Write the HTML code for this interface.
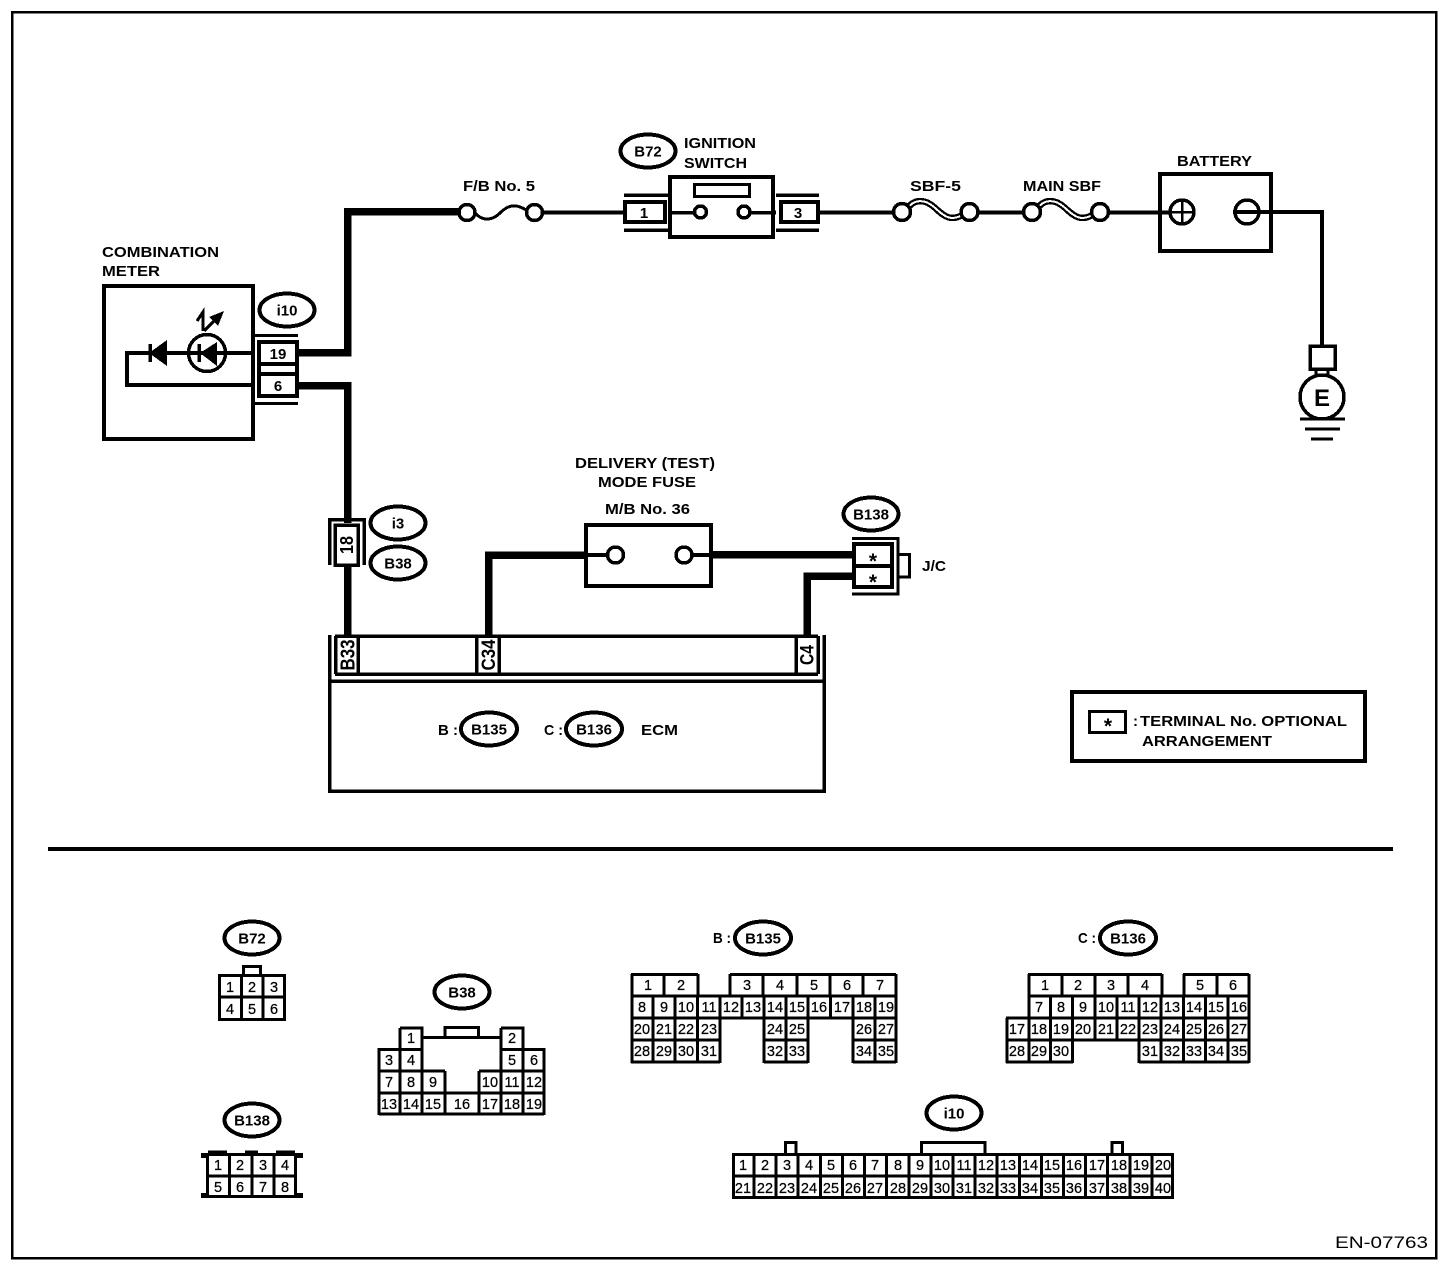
<!DOCTYPE html>
<html><head><meta charset="utf-8"><title>Wiring diagram EN-07763</title>
<style>
html,body{margin:0;padding:0;background:#fff}
svg{display:block}
text{font-family:"Liberation Sans",sans-serif;fill:#000}
.l{font-size:15px;font-weight:bold}
.d text,.d{font-size:14.5px;text-anchor:middle;stroke:#000;stroke-width:.25}
.c{font-size:15px;font-weight:bold;text-anchor:middle}
.g{fill:none;stroke:#000;stroke-width:3}
.w{fill:#fff;stroke:#000}
ellipse{fill:#fff;stroke:#000;stroke-width:4}
</style></head><body>
<svg width="1456" height="1268" viewBox="0 0 1456 1268" shape-rendering="crispEdges">
<rect width="1456" height="1268" fill="#fff"/>
<rect x="12" y="12" width="1424" height="1246" fill="none" stroke="#000" stroke-width="2.5"/>

<!-- wires thick -->
<g fill="none" stroke="#000" stroke-width="7.5">
<path d="M299 352.500H347.500V211.500H458"/>
<path d="M299 385.500H347.500V523M347.500 566V636"/>
<path d="M488.500 636V555H586"/>
<path d="M712 554.500H853"/>
<path d="M853 576H807V636"/>
</g>
<!-- wires thin -->
<g fill="none" stroke="#000" stroke-width="4">
<path d="M543 212.500H624M668 212.500H694M750 212.500H776M820 212.500H893M978 212.500H1023M1109 212.500H1170"/>
<path d="M1233 212H1322V345"/>
<path d="M586 555H608M692 555H712"/>
<path d="M255 353H127V385H255"/>
</g>

<!-- combination meter -->
<rect x="104" y="286" width="149" height="153" class="w" stroke-width="4"/>
<path d="M255 353H127V385H255" fill="none" stroke="#000" stroke-width="4"/>
<path d="M150 344V362" stroke="#000" stroke-width="3.500"/>
<path d="M149 353L167 340V366Z"/>
<circle cx="207" cy="353" r="18.500" class="w" stroke-width="3.500"/>
<path d="M188 353H226" stroke="#000" stroke-width="4"/>
<path d="M199 344V362" stroke="#000" stroke-width="3.500"/>
<path d="M200 353L217 342V366Z"/>
<path d="M197 321L203 312V331" fill="none" stroke="#000" stroke-width="3"/>
<path d="M204 331L218 317" fill="none" stroke="#000" stroke-width="3"/>
<path d="M224 311L209 317L218 326Z"/>
<text class="l" x="102" y="257" textLength="117" lengthAdjust="spacingAndGlyphs">COMBINATION</text>
<text class="l" x="102" y="276" textLength="58" lengthAdjust="spacingAndGlyphs">METER</text>
<ellipse cx="287" cy="310" rx="27.500" ry="16.500"/>
<text class="c" x="287" y="315.500">i10</text>
<!-- connector 19/6 -->
<path d="M255 335.500H298M255 403.500H298" stroke="#000" stroke-width="3"/>
<rect x="259" y="342" width="38" height="22" class="w" stroke-width="4"/>
<rect x="259" y="374" width="38" height="22" class="w" stroke-width="4"/>
<path d="M259 362V378M297 362V378" stroke="#000" stroke-width="4"/>
<text class="c" x="278" y="359">19</text>
<text class="c" x="278" y="391">6</text>

<!-- F/B No.5 -->
<text class="l" x="463" y="191" textLength="72" lengthAdjust="spacingAndGlyphs">F/B No. 5</text>
<path d="M475 213C484 223 494 219 500 213S514 202 526 210" fill="none" stroke="#000" stroke-width="3"/>
<circle cx="467" cy="212.500" r="8" class="w" stroke-width="3.500"/>
<circle cx="534.500" cy="212.500" r="8" class="w" stroke-width="3.500"/>

<!-- ignition -->
<ellipse cx="648" cy="151" rx="27.500" ry="16.500"/>
<text class="c" x="648" y="156.500">B72</text>
<text class="l" x="684" y="148" textLength="72" lengthAdjust="spacingAndGlyphs">IGNITION</text>
<text class="l" x="684" y="168" textLength="63" lengthAdjust="spacingAndGlyphs">SWITCH</text>
<rect x="670" y="177" width="103" height="60" class="w" stroke-width="4"/>
<rect x="694.500" y="184.500" width="55" height="12" fill="none" stroke="#000" stroke-width="3"/>
<path d="M670 212.500H694M750 212.500H773" stroke="#000" stroke-width="3.500"/>
<circle cx="700.500" cy="212" r="6" class="w" stroke-width="3.500"/>
<circle cx="744" cy="212" r="6" class="w" stroke-width="3.500"/>
<path d="M624 195H668M624 230H668M776 195H819M776 230H819" stroke="#000" stroke-width="3.500"/>
<rect x="625" y="202" width="40" height="20" class="w" stroke-width="4"/>
<rect x="781" y="202" width="37" height="20" class="w" stroke-width="4"/>
<text class="c" x="644" y="218">1</text>
<text class="c" x="798" y="218">3</text>

<!-- SBF -->
<text class="l" x="910" y="191" textLength="51" lengthAdjust="spacingAndGlyphs">SBF-5</text>
<text class="l" x="1023" y="191" textLength="78" lengthAdjust="spacingAndGlyphs">MAIN SBF</text>
<g fill="none" stroke-linecap="round">
<path d="M908 208C914 199 925 199 934 207S950 223 964 214" stroke="#000" stroke-width="6.500"/>
<path d="M908 208C914 199 925 199 934 207S950 223 964 214" stroke="#fff" stroke-width="2"/>
<path d="M1038 208C1044 199 1055 199 1064 207S1080 223 1094 214" stroke="#000" stroke-width="6.500"/>
<path d="M1038 208C1044 199 1055 199 1064 207S1080 223 1094 214" stroke="#fff" stroke-width="2"/>
</g>
<circle cx="902" cy="212" r="8.500" class="w" stroke-width="3.500"/>
<circle cx="969.500" cy="212" r="8.500" class="w" stroke-width="3.500"/>
<circle cx="1032" cy="212" r="8.500" class="w" stroke-width="3.500"/>
<circle cx="1100" cy="212" r="8.500" class="w" stroke-width="3.500"/>

<!-- battery -->
<text class="l" x="1177" y="166" textLength="75" lengthAdjust="spacingAndGlyphs">BATTERY</text>
<rect x="1160" y="174" width="111" height="77" fill="#fff" stroke="#000" stroke-width="4"/>
<path d="M1142 212.500H1175M1233 212H1272" stroke="#000" stroke-width="4"/>
<circle cx="1182" cy="212" r="12" fill="#fff" stroke="#000" stroke-width="3.500"/>
<path d="M1170 212H1194M1182 200V224" stroke="#000" stroke-width="2.500"/>
<circle cx="1247" cy="212" r="12" fill="none" stroke="#000" stroke-width="3.500"/>
<path d="M1233 212H1272" stroke="#000" stroke-width="3.500"/>

<!-- earth -->
<path d="M1316 370V376M1328 370V376" stroke="#000" stroke-width="3"/>
<rect x="1310" y="346" width="25" height="23" fill="#fff" stroke="#000" stroke-width="3.500"/>
<circle cx="1322" cy="397" r="22" fill="#fff" stroke="#000" stroke-width="3.500"/>
<text x="1322" y="406" text-anchor="middle" font-size="24" font-weight="bold">E</text>
<path d="M1300 419H1345M1305 429H1340M1311 439H1333" stroke="#000" stroke-width="3"/>

<!-- i3 / B38 connector -->
<path d="M329.500 565V519.500H364V565" fill="none" stroke="#000" stroke-width="3.500"/>
<rect x="335" y="525" width="23" height="40" class="w" stroke-width="3.500"/>
<text transform="translate(353,545) rotate(-90)" text-anchor="middle" font-size="18" font-weight="bold" textLength="18" lengthAdjust="spacingAndGlyphs">18</text>
<ellipse cx="398" cy="523" rx="27.500" ry="16.500"/>
<text class="c" x="398" y="528.500">i3</text>
<ellipse cx="398" cy="563" rx="27.500" ry="16.500"/>
<text class="c" x="398" y="568.500">B38</text>

<!-- fuse -->
<text class="l" x="575" y="468" textLength="140" lengthAdjust="spacingAndGlyphs">DELIVERY (TEST)</text>
<text class="l" x="598" y="487" textLength="98" lengthAdjust="spacingAndGlyphs">MODE FUSE</text>
<text class="l" x="605" y="514" textLength="85" lengthAdjust="spacingAndGlyphs">M/B No. 36</text>
<rect x="586" y="525" width="125" height="61" fill="#fff" stroke="#000" stroke-width="4"/>
<path d="M586 555H608M692 555H711" stroke="#000" stroke-width="4"/>
<circle cx="615.500" cy="555" r="8" class="w" stroke-width="3.500"/>
<circle cx="684" cy="555" r="8" class="w" stroke-width="3.500"/>

<!-- J/C -->
<ellipse cx="871" cy="514" rx="27.500" ry="16.500"/>
<text class="c" x="871" y="519.500">B138</text>
<path d="M852 538.500H898V594H852" fill="none" stroke="#000" stroke-width="3"/>
<rect x="854" y="544" width="38" height="43" class="w" stroke-width="4"/>
<path d="M854 566H892" stroke="#000" stroke-width="4"/>
<path d="M899 554.500H909.500V577H899" fill="none" stroke="#000" stroke-width="3"/>
<text x="873" y="568" text-anchor="middle" font-size="21" font-weight="bold">*</text>
<text x="873" y="589" text-anchor="middle" font-size="21" font-weight="bold">*</text>
<text class="l" x="922" y="571" textLength="24" lengthAdjust="spacingAndGlyphs">J/C</text>

<!-- ECM -->
<path d="M329.500 635V791H824V635" fill="none" stroke="#000" stroke-width="3.500"/>
<path d="M328 681H826M335 636H818M335 674H818" stroke="#000" stroke-width="3.500"/>
<path d="M335.500 636V674M358 636V674M476.500 636V674M499 636V674M796 636V674M818 636V674" stroke="#000" stroke-width="3.500"/>
<text transform="translate(354.500,655) rotate(-90)" text-anchor="middle" font-size="20" font-weight="bold" textLength="31" lengthAdjust="spacingAndGlyphs">B33</text>
<text transform="translate(495,655) rotate(-90)" text-anchor="middle" font-size="19" font-weight="bold" textLength="31" lengthAdjust="spacingAndGlyphs">C34</text>
<text transform="translate(813.500,655) rotate(-90)" text-anchor="middle" font-size="19" font-weight="bold" textLength="20" lengthAdjust="spacingAndGlyphs">C4</text>
<text class="l" x="438" y="735" textLength="20" lengthAdjust="spacingAndGlyphs">B :</text>
<ellipse cx="489" cy="729" rx="28" ry="16.500"/>
<text class="c" x="489" y="734.500">B135</text>
<text class="l" x="544" y="735" textLength="19" lengthAdjust="spacingAndGlyphs">C :</text>
<ellipse cx="594" cy="729" rx="28" ry="16.500"/>
<text class="c" x="594" y="734.500">B136</text>
<text class="l" x="641" y="735" textLength="37" lengthAdjust="spacingAndGlyphs">ECM</text>

<!-- legend -->
<rect x="1072" y="692" width="293" height="69" fill="none" stroke="#000" stroke-width="4"/>
<rect x="1089.500" y="711.500" width="36" height="21" fill="none" stroke="#000" stroke-width="3"/>
<text x="1108" y="733" text-anchor="middle" font-size="21" font-weight="bold">*</text>
<text class="l" x="1133" y="726">:</text>
<text class="l" x="1140" y="726" textLength="207" lengthAdjust="spacingAndGlyphs">TERMINAL No. OPTIONAL</text>
<text class="l" x="1142" y="746" textLength="130" lengthAdjust="spacingAndGlyphs">ARRANGEMENT</text>

<!-- divider -->
<path d="M48 849H1393" stroke="#000" stroke-width="4"/>

<!-- B72 -->
<ellipse cx="252" cy="938" rx="27.500" ry="16.500"/>
<text class="c" x="252" y="943.500">B72</text>
<path class="g" d="M219.500 975.500H284.500V1019.500H219.500ZM241.500 975V1020M263 975V1020M219 997H285M243.500 975V966.500H260.500V975"/>
<g class="d">
<text x="230" y="992">1</text><text x="252" y="992">2</text><text x="274" y="992">3</text>
<text x="230" y="1014">4</text><text x="252" y="1014">5</text><text x="274" y="1014">6</text>
</g>

<!-- B138 -->
<ellipse cx="252" cy="1120" rx="27.500" ry="16.500"/>
<text class="c" x="252" y="1125.500">B138</text>
<path class="g" d="M207.500 1154.500H295.500V1196.500H207.500ZM229.500 1154V1197M252 1154V1197M274 1154V1197M207 1176H296"/>
<path d="M208 1151.500H227M245 1151.500H258M276 1151.500H295" stroke="#000" stroke-width="2.500"/>
<path d="M201 1153h6v5h-6zM297 1153h6v5h-6zM201 1193h6v5h-6zM297 1193h6v5h-6z"/>
<g class="d">
<text x="218" y="1170">1</text><text x="240" y="1170">2</text><text x="263" y="1170">3</text><text x="285" y="1170">4</text>
<text x="218" y="1192">5</text><text x="240" y="1192">6</text><text x="263" y="1192">7</text><text x="285" y="1192">8</text>
</g>

<!-- B38 -->
<ellipse cx="462" cy="992" rx="27.500" ry="16.500"/>
<text class="c" x="462" y="997.500">B38</text>
<path class="g" d="M400 1028H422V1048M400 1028V1048M501 1028H523V1048M501 1028V1048M422 1037.500H501M445 1037V1027.500H478.500V1037"/>
<path class="g" d="M379 1049.500H422M501 1049.500H544M379 1071H445M479 1071H544M379 1093H544M379 1114H544"/>
<path class="g" d="M379 1048V1115M400 1048V1115M422 1048V1115M445 1071V1115M479 1071V1115M501 1048V1115M523 1048V1115M544 1048V1115"/>
<g class="d">
<text x="411" y="1043">1</text><text x="512" y="1043">2</text>
<text x="389" y="1065">3</text><text x="411" y="1065">4</text><text x="512" y="1065">5</text><text x="534" y="1065">6</text>
<text x="389" y="1087">7</text><text x="411" y="1087">8</text><text x="433" y="1087">9</text><text x="490" y="1087">10</text><text x="512" y="1087">11</text><text x="534" y="1087">12</text>
<text x="389" y="1109">13</text><text x="411" y="1109">14</text><text x="433" y="1109">15</text><text x="462" y="1109">16</text><text x="490" y="1109">17</text><text x="512" y="1109">18</text><text x="534" y="1109">19</text>
</g>

<!-- B135 -->
<text class="l" x="713" y="943" textLength="18" lengthAdjust="spacingAndGlyphs">B :</text>
<ellipse cx="763" cy="938" rx="28" ry="16.500"/>
<text class="c" x="763" y="943.500">B135</text>
<path class="g" d="M631 974.500H698M730 974.500H896M631 996H896M631 1018H896M631 1040H720M764 1040H808M853 1040H896M631 1062H720M764 1062H808M853 1062H896"/>
<path class="g" d="M632 974V996M664 974V996M698 974V996M730 974V996M763 974V996M797 974V996M830 974V996M863 974V996M896 974V996"/>
<path class="g" d="M653 996V1018M675 996V1018M697.500 996V1018M720 996V1018M742 996V1018M764 996V1018M786 996V1018M808 996V1018M830.500 996V1018M853 996V1018M875 996V1018M632 996V1018M896 996V1018"/>
<path class="g" d="M632 1018V1063M653 1018V1063M675 1018V1063M697.500 1018V1063M720 1018V1063M764 1018V1063M786 1018V1063M808 1018V1063M853 1018V1063M875 1018V1063M896 1018V1063"/>
<g class="d">
<text x="648" y="990">1</text><text x="681" y="990">2</text><text x="747" y="990">3</text><text x="780" y="990">4</text><text x="814" y="990">5</text><text x="847" y="990">6</text><text x="880" y="990">7</text>
<text x="642" y="1012">8</text><text x="664" y="1012">9</text><text x="686" y="1012">10</text><text x="709" y="1012">11</text><text x="731" y="1012">12</text><text x="753" y="1012">13</text><text x="775" y="1012">14</text><text x="797" y="1012">15</text><text x="819" y="1012">16</text><text x="842" y="1012">17</text><text x="864" y="1012">18</text><text x="886" y="1012">19</text>
<text x="642" y="1034">20</text><text x="664" y="1034">21</text><text x="686" y="1034">22</text><text x="709" y="1034">23</text><text x="775" y="1034">24</text><text x="797" y="1034">25</text><text x="864" y="1034">26</text><text x="886" y="1034">27</text>
<text x="642" y="1056">28</text><text x="664" y="1056">29</text><text x="686" y="1056">30</text><text x="709" y="1056">31</text><text x="775" y="1056">32</text><text x="797" y="1056">33</text><text x="864" y="1056">34</text><text x="886" y="1056">35</text>
</g>

<!-- B136 -->
<text class="l" x="1078" y="943" textLength="18" lengthAdjust="spacingAndGlyphs">C :</text>
<ellipse cx="1128" cy="938" rx="28" ry="16.500"/>
<text class="c" x="1128" y="943.500">B136</text>
<path class="g" d="M1028 974.500H1162M1183 974.500H1249M1028 996H1249M1006 1018H1249M1006 1040H1249M1006 1062H1073M1139 1062H1249"/>
<path class="g" d="M1029 974V996M1062 974V996M1095 974V996M1128 974V996M1162 974V996M1184 974V996M1217 974V996M1249 974V996"/>
<path class="g" d="M1029 996V1018M1050.500 996V1018M1072.500 996V1018M1095 996V1018M1117 996V1018M1139 996V1018M1161 996V1018M1183.500 996V1018M1205.500 996V1018M1228 996V1018M1249 996V1018"/>
<path class="g" d="M1007 1018V1040M1029 1018V1040M1050.500 1018V1040M1072.500 1018V1040M1095 1018V1040M1117 1018V1040M1139 1018V1040M1161 1018V1040M1183.500 1018V1040M1205.500 1018V1040M1228 1018V1040M1249 1018V1040"/>
<path class="g" d="M1007 1040V1063M1029 1040V1063M1050.500 1040V1063M1072.500 1040V1063M1139 1040V1063M1161 1040V1063M1183.500 1040V1063M1205.500 1040V1063M1228 1040V1063M1249 1040V1063"/>
<g class="d">
<text x="1045" y="990">1</text><text x="1078" y="990">2</text><text x="1111" y="990">3</text><text x="1145" y="990">4</text><text x="1200" y="990">5</text><text x="1233" y="990">6</text>
<text x="1039" y="1012">7</text><text x="1061" y="1012">8</text><text x="1083" y="1012">9</text><text x="1106" y="1012">10</text><text x="1128" y="1012">11</text><text x="1150" y="1012">12</text><text x="1172" y="1012">13</text><text x="1194" y="1012">14</text><text x="1216" y="1012">15</text><text x="1239" y="1012">16</text>
<text x="1017" y="1034">17</text><text x="1039" y="1034">18</text><text x="1061" y="1034">19</text><text x="1083" y="1034">20</text><text x="1106" y="1034">21</text><text x="1128" y="1034">22</text><text x="1150" y="1034">23</text><text x="1172" y="1034">24</text><text x="1194" y="1034">25</text><text x="1216" y="1034">26</text><text x="1239" y="1034">27</text>
<text x="1017" y="1056">28</text><text x="1039" y="1056">29</text><text x="1061" y="1056">30</text><text x="1150" y="1056">31</text><text x="1172" y="1056">32</text><text x="1194" y="1056">33</text><text x="1216" y="1056">34</text><text x="1239" y="1056">35</text>
</g>

<!-- i10 -->
<ellipse cx="954" cy="1113" rx="27.500" ry="16.500"/>
<text class="c" x="954" y="1118.500">i10</text>
<path class="g" d="M733.500 1154.500H1172.500V1197.500H733.500ZM733 1176H1173M785.500 1153V1142.500H796V1153M921.500 1153V1142.500H985V1153M1112 1153V1142.500H1122.500V1153"/>
<path class="g" d="M754 1154V1198M776 1154V1198M798 1154V1198M820.500 1154V1198M842.500 1154V1198M864.500 1154V1198M886.500 1154V1198M909 1154V1198M931 1154V1198M953 1154V1198M975 1154V1198M997 1154V1198M1019.500 1154V1198M1041.500 1154V1198M1063.500 1154V1198M1085.500 1154V1198M1107.500 1154V1198M1130 1154V1198M1152 1154V1198"/>
<g class="d">
<text x="743" y="1170">1</text><text x="765" y="1170">2</text><text x="787" y="1170">3</text><text x="809" y="1170">4</text><text x="831" y="1170">5</text><text x="853" y="1170">6</text><text x="875" y="1170">7</text><text x="898" y="1170">8</text><text x="920" y="1170">9</text><text x="942" y="1170">10</text><text x="964" y="1170">11</text><text x="986" y="1170">12</text><text x="1008" y="1170">13</text><text x="1030" y="1170">14</text><text x="1052" y="1170">15</text><text x="1074" y="1170">16</text><text x="1097" y="1170">17</text><text x="1119" y="1170">18</text><text x="1141" y="1170">19</text><text x="1163" y="1170">20</text>
<text x="743" y="1193">21</text><text x="765" y="1193">22</text><text x="787" y="1193">23</text><text x="809" y="1193">24</text><text x="831" y="1193">25</text><text x="853" y="1193">26</text><text x="875" y="1193">27</text><text x="898" y="1193">28</text><text x="920" y="1193">29</text><text x="942" y="1193">30</text><text x="964" y="1193">31</text><text x="986" y="1193">32</text><text x="1008" y="1193">33</text><text x="1030" y="1193">34</text><text x="1052" y="1193">35</text><text x="1074" y="1193">36</text><text x="1097" y="1193">37</text><text x="1119" y="1193">38</text><text x="1141" y="1193">39</text><text x="1163" y="1193">40</text>
</g>

<text x="1335" y="1248" font-size="17" textLength="93" lengthAdjust="spacingAndGlyphs">EN-07763</text>
</svg>
</body></html>
